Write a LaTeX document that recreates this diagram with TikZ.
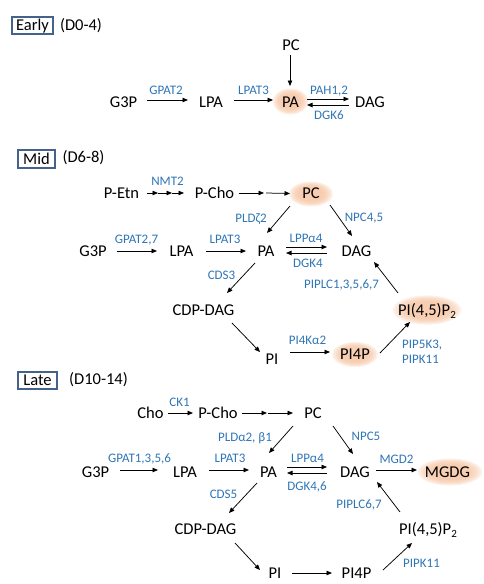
\documentclass[tikz,border=0pt]{standalone}
\usepackage{fontspec}
\setmainfont{Carlito}
\usetikzlibrary{arrows.meta,calc}
\definecolor{lblue}{RGB}{46,117,182}
\definecolor{peach}{RGB}{246,196,162}
\definecolor{boxc}{RGB}{68,98,140}
\tikzset{
  mn/.style={font=\fontsize{16.5}{18}\selectfont, inner sep=0pt, text height=10.6pt, text depth=0pt},
  lb/.style={font=\fontsize{13}{15}\selectfont, text=lblue, inner sep=0pt, text height=8.4pt, text depth=0pt},
  arr/.style={-{Triangle[length=5.5pt,width=4.5pt]}, line width=0.75pt},
  secbox/.style={mn, draw=boxc, line width=1.4pt, minimum height=17pt},
  blobfill/.style={fill=peach, opacity=0.25}
}
\newcommand\myblob[3]{%
  \foreach \s in {1.04,0.96,0.88,0.80,0.72,0.64}{%
    \fill[blobfill] #1 ellipse [x radius=\s*#2 pt, y radius=\s*#3 pt];}}
\newcommand\subtwo{\raisebox{-3pt}{\fontsize{11}{11}\selectfont 2}}
\begin{document}
\begin{tikzpicture}[x=1pt,y=-1pt]
\useasboundingbox (0,0) rectangle (483,584);

% ---------------- Early ----------------
\myblob{(290.5,101.5)}{17}{12.5}
\node[secbox, minimum width=41pt] (earlyB) at (32.5,25.5) {Early};
\node[mn] (earlyD) at (81,25) {(D0-4)};
\node[mn] (pcE) at (291,45) {PC};
\node[mn] (g3pE) at (123.5,102) {G3P};
\node[mn] (lpaE) at (211,102) {LPA};
\node[mn] (paE) at (290.5,102) {PA};
\node[mn] (dagE) at (370,102) {DAG};
\node[lb] (gpatE) at (166,90) {GPAT2};
\node[lb] (lpatE) at (253.5,90) {LPAT3};
\node[lb] (pahE) at (329,90) {PAH1,2};
\node[lb] (dgkE) at (329,115.5) {DGK6};
\draw[arr] ($(g3pE)+(23.5,-2)$) -- ($(lpaE)+(-23,-2)$);
\draw[arr] ($(lpaE)+(23,-2)$) -- ($(paE)+(-17.5,-2)$);
\draw[arr] ($(pcE)+(-1,10)$) -- ($(paE)+(-0.5,-16)$);
\draw[arr] ($(paE)+(16.5,-3)$) -- ($(dagE)+(-21,-3)$);
\draw[arr] ($(dagE)+(-21,3)$) -- ($(paE)+(16.5,3)$);

% ---------------- Mid ----------------
\myblob{(311,194)}{21}{12}
\myblob{(427,310)}{33}{14}
\myblob{(355,354.5)}{22}{12}
\node[secbox, minimum width=37pt, minimum height=18pt] (midB) at (36.5,159) {Mid};
\node[mn] (midD) at (83.5,157) {(D6-8)};
\node[mn] (petn) at (121.5,193) {P-Etn};
\node[mn] (pchoM) at (214.5,193) {P-Cho};
\node[mn] (pcM) at (311,193.5) {PC};
\node[mn] (g3pM) at (93,251) {G3P};
\node[mn] (lpaM) at (181.5,251) {LPA};
\node[mn] (paM) at (266,251) {PA};
\node[mn] (dagM) at (356.5,251) {DAG};
\node[mn] (cdpM) at (203.5,310) {CDP-DAG};
\node[mn, anchor=west] (pipM) at (398,310) {PI(4,5)P\subtwo};
\node[mn] (piM) at (272,359) {PI};
\node[mn] (pi4pM) at (355,354) {PI4P};
\node[lb] (nmt2) at (167.5,181) {NMT2};
\node[lb] (pldM) at (251,218) {PLDζ2};
\node[lb] (npcM) at (364,217) {NPC4,5};
\node[lb] (gpatM) at (136.5,239) {GPAT2,7};
\node[lb] (lpatM) at (225,239) {LPAT3};
\node[lb] (lppM) at (306,238) {LPPα4};
\node[lb] (dgkM) at (308,263) {DGK4};
\node[lb] (cdsM) at (221.5,275) {CDS3};
\node[lb] (piplcM) at (341.5,284) {PIPLC1,3,5,6,7};
\node[lb] (pi4kM) at (307.5,340) {PI4Kα2};
\node[lb, anchor=west] (pip5k) at (402,344) {PIP5K3,};
\node[lb, anchor=west] (pipk11M) at (402,359) {PIPK11};
\coordinate (e1) at (158,193);
\coordinate (e2) at (172,193);
\coordinate (c1) at (265,193);
\draw[arr] ($(petn)+(25.5,0)$) -- (e1);
\draw[arr] (e1) -- (e2);
\draw[arr] (e2) -- ($(pchoM)+(-30.5,0)$);
\draw[arr] ($(pchoM)+(24,0)$) -- ($(c1)+(-1,0)$);
\draw[arr] ($(c1)+(1,0)$) -- ($(pcM)+(-21,0)$);
\draw[arr] ($(pcM)+(-21,12.5)$) -- ($(paM)+(1,-18)$);
\draw[arr] ($(pcM)+(19,11.5)$) -- ($(dagM)+(-4.5,-15)$);
\draw[arr] ($(g3pM)+(24,0)$) -- ($(lpaM)+(-24.5,0)$);
\draw[arr] ($(lpaM)+(24.5,0)$) -- ($(paM)+(-20,0)$);
\draw[arr] ($(paM)+(20,-4)$) -- ($(dagM)+(-29.5,-4)$);
\draw[arr] ($(dagM)+(-29.5,2)$) -- ($(paM)+(20,2)$);
\draw[arr] ($(paM)+(-11,12)$) -- ($(cdpM)+(23.5,-17)$);
\draw[arr] ($(pipM.west)+(0,-17)$) -- ($(dagM)+(17.5,11)$);
\draw[arr] ($(cdpM)+(28.5,13)$) -- ($(piM)+(-12,-7)$);
\draw[arr] ($(piM)+(18,-7)$) -- ($(pi4pM)+(-25,-2)$);
\draw[arr] ($(pi4pM)+(25,-1)$) -- ($(pipM.west)+(12,12)$);

% ---------------- Late ----------------
\myblob{(450,472)}{31}{13}
\node[secbox, minimum width=39pt] (lateB) at (37.5,380.5) {Late};
\node[mn] (lateD) at (98.5,379) {(D10-14)};
\node[mn] (cho) at (150.5,413.5) {Cho};
\node[mn] (pchoL) at (218,413.5) {P-Cho};
\node[mn] (pcL) at (313,413.5) {PC};
\node[mn] (g3pL) at (95.5,472) {G3P};
\node[mn] (lpaL) at (185,472) {LPA};
\node[mn] (paL) at (268.5,472) {PA};
\node[mn] (dagL) at (355,472) {DAG};
\node[mn] (mgdg) at (447.5,472) {MGDG};
\node[mn] (cdpL) at (205.5,529.5) {CDP-DAG};
\node[mn, anchor=west] (pipL) at (399,529.5) {PI(4,5)P\subtwo};
\node[mn] (piL) at (275,573) {PI};
\node[mn] (pi4pL) at (356.5,573) {PI4P};
\node[lb] (ck1) at (179.5,402) {CK1};
\node[lb] (pldL) at (245,437) {PLDα2, β1};
\node[lb] (npc5) at (366,436) {NPC5};
\node[lb] (gpatL) at (139.5,458) {GPAT1,3,5,6};
\node[lb] (lpatL) at (230,458) {LPAT3};
\node[lb] (lppL) at (307.5,458) {LPPα4};
\node[lb] (mgd2) at (396.5,459) {MGD2};
\node[lb] (dgkL) at (307,486) {DGK4,6};
\node[lb] (cds5) at (223.5,494) {CDS5};
\node[lb] (piplcL) at (359,504) {PIPLC6,7};
\node[lb] (pipk11L) at (421.5,563) {PIPK11};
\coordinate (c2) at (267.5,413);
\draw[arr] ($(cho)+(17.5,-0.5)$) -- ($(pchoL)+(-25,-0.5)$);
\draw[arr] ($(pchoL)+(24,-0.5)$) -- ($(c2)+(-0.5,0)$);
\draw[arr] ($(c2)+(0.5,0)$) -- ($(pcL)+(-20,-0.5)$);
\draw[arr] ($(pcL)+(-20,12.5)$) -- ($(paL)+(0.5,-19)$);
\draw[arr] ($(pcL)+(20,12.5)$) -- ($(dagL)+(-2,-18)$);
\draw[arr] ($(g3pL)+(24.5,-2)$) -- ($(lpaL)+(-27,-2)$);
\draw[arr] ($(lpaL)+(24,-2)$) -- ($(paL)+(-19.5,-2)$);
\draw[arr] ($(paL)+(18.5,-5)$) -- ($(dagL)+(-28,-5)$);
\draw[arr] ($(dagL)+(-28,1)$) -- ($(paL)+(18.5,1)$);
\draw[arr] ($(dagL)+(21,-2)$) -- ($(mgdg)+(-30.5,-2)$);
\draw[arr] ($(paL)+(-11.5,11)$) -- ($(cdpL)+(23.5,-16.5)$);
\draw[arr] ($(pipL.west)+(1,-17.5)$) -- ($(dagL)+(22,10)$);
\draw[arr] ($(cdpL)+(29.5,13.5)$) -- ($(piL)+(-15,-3)$);
\draw[arr] ($(piL)+(17,0)$) -- ($(pi4pL)+(-24.5,0)$);
\draw[arr] ($(pi4pL)+(26.5,-3)$) -- ($(pipL.west)+(13,13.5)$);
\end{tikzpicture}
\end{document}
